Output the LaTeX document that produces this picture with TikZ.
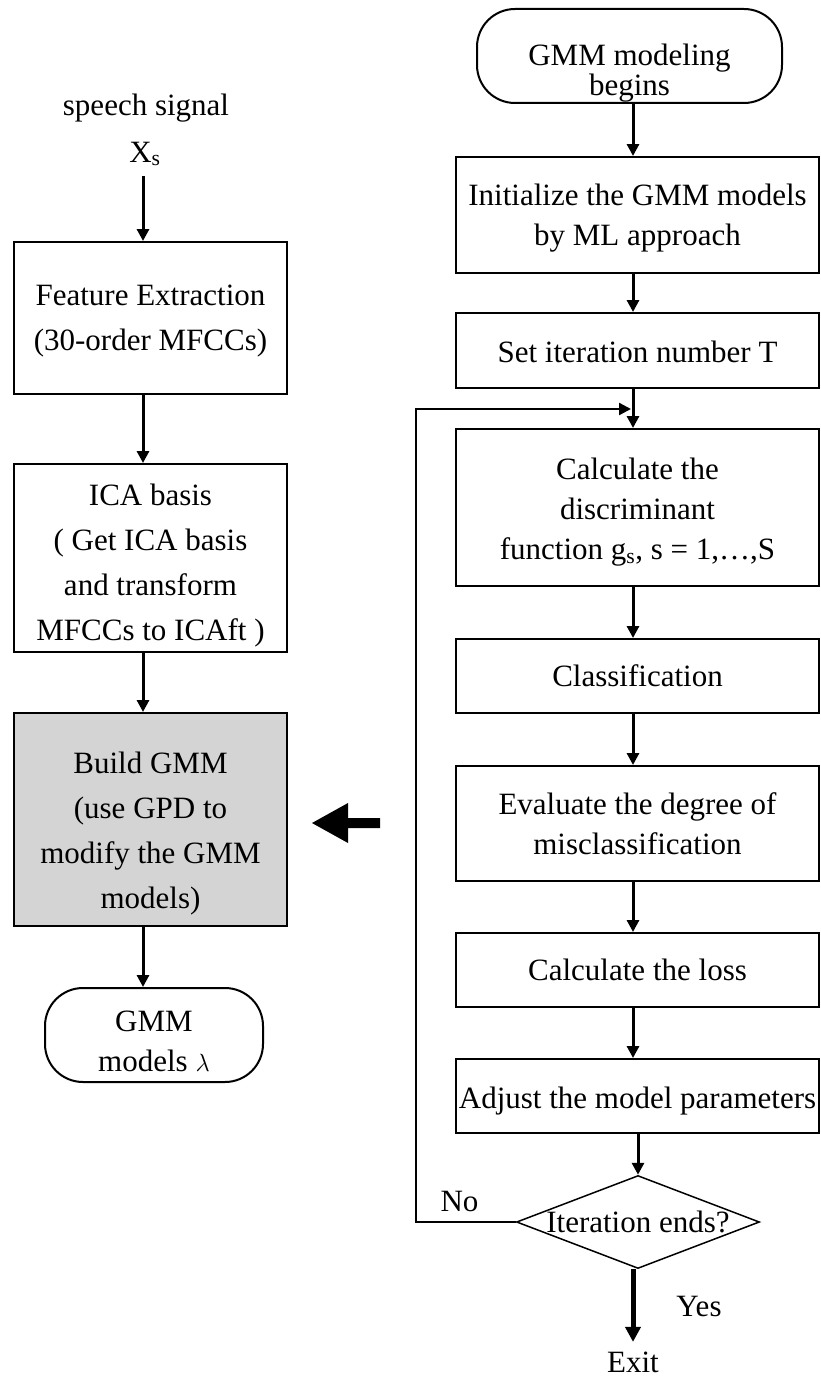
\documentclass[tikz,border=0pt]{standalone}
\usepackage{fontspec}
\setmainfont{Liberation Serif}
\usetikzlibrary{arrows.meta,shapes.geometric}
% zero-width strut that sets the height of a node's first line
\newcommand\hgt[1]{\rule{0pt}{#1pt}}
\definecolor{gmmgray}{gray}{0.83}
\begin{document}
\begin{tikzpicture}[x=1pt,y=-1pt,
  every node/.style={inner sep=0pt, align=center},
  lbl/.style={font=\fontsize{31}{40}\selectfont},
  box/.style={draw, line width=2pt, font=\fontsize{31}{45}\selectfont},
  lbox/.style={box, minimum width=273},
  rbox/.style={box, minimum width=363, font=\fontsize{31}{40}\selectfont},
  term/.style={box, rounded corners=38pt},
  dec/.style={draw, diamond, aspect=2.61, minimum width=243, minimum height=93,
    line width=1.5pt, font=\fontsize{31}{40}\selectfont},
  arr/.style={line width=3pt, -{Triangle[length=12pt,width=12pt]}},
  fb/.style={line width=2.4pt, -{Triangle[length=12pt,width=12pt]}},
  yesarr/.style={line width=5pt, -{Triangle[length=15pt,width=15pt]}}]
\useasboundingbox (0,0) rectangle (821,1378);

% left column: feature pipeline
\node[lbl] (sig) at (146,108) {speech signal};
\node[lbl] (xs) at (145,154) {X\textsubscript{s}};
\node[lbox, minimum height=152] (feat) at (150.5,318)
  {\hgt{25.7}Feature Extraction\\(30-order MFCCs)};
\node[lbox, minimum height=188] (ica) at (150.5,558)
  {\hgt{36.7}ICA basis\\( Get ICA basis\\and transform\\MFCCs to ICAft )};
\node[lbox, minimum height=213, fill=gmmgray] (gmm) at (150.5,819.5)
  {\hgt{48.7}Build GMM\\(use GPD to\\modify the GMM\\models)};
\node[term, minimum width=218, minimum height=94,
  font=\fontsize{31}{40}\selectfont] (models) at (154,1035)
  {\hgt{34}GMM\\models $\lambda$};

% right column: GPD training loop
\node[term, minimum width=305, minimum height=94,
  font=\fontsize{31}{27}\selectfont] (begin) at (629.5,56)
  {\hgt{55.7}GMM modeling\\begins};
\node[rbox, minimum height=116] (init) at (637.5,215)
  {\hgt{26.7}Initialize the GMM models\\by ML approach};
\node[rbox, minimum height=75] (setT) at (637.5,350.5)
  {\hgt{25}Set iteration number T};
\node[rbox, minimum height=157] (calc) at (637.5,507.5)
  {\hgt{30.7}Calculate the\\discriminant\\function g\textsubscript{s}, s = 1,\ldots,S};
\node[rbox, minimum height=74] (class) at (637.5,676)
  {\hgt{22}Classification};
\node[rbox, minimum height=115] (eval) at (637.5,823.5)
  {\hgt{23}Evaluate the degree of\\misclassification};
\node[rbox, minimum height=74] (loss) at (637.5,970)
  {Calculate the loss};
\node[rbox, minimum height=74] (adjust) at (637.5,1096)
  {\hgt{30.7}Adjust the model parameters};
\node[dec] (dia) at (638,1222) {Iteration ends?};
\node[lbl] (no) at (459.5,1201.5) {No};
\node[lbl] (yes) at (699,1306.5) {Yes};
\node[lbl] (exit) at (633,1362.5) {Exit};

% connector columns and loop corners
\coordinate (lcol) at (143,0);
\coordinate (rcol) at (633,0);
\coordinate (loopc) at (416,409);
\coordinate (joinc) at (631,409);

\draw[arr, shorten <=10pt] (xs.south -| lcol) -- (feat.north -| lcol);
\draw[arr] (feat.south -| lcol) -- (ica.north -| lcol);
\draw[arr] (ica.south -| lcol) -- (gmm.north -| lcol);
\draw[arr] (gmm.south -| lcol) -- (models.north -| lcol);

\draw[arr] (begin.south -| rcol) -- (init.north -| rcol);
\draw[arr] (init.south -| rcol) -- (setT.north -| rcol);
\draw[arr] (setT.south -| rcol) -- (calc.north -| rcol);
\draw[arr] (calc.south -| rcol) -- (class.north -| rcol);
\draw[arr] (class.south -| rcol) -- (eval.north -| rcol);
\draw[arr] (eval.south -| rcol) -- (loss.north -| rcol);
\draw[arr] (loss.south -| rcol) -- (adjust.north -| rcol);
\draw[arr] (adjust.south -| dia) -- (dia.north);
\draw[yesarr, shorten >=10pt] (dia.south -| exit) -- (exit.north);
\draw[fb] (dia.west) -| (loopc) -- (joinc);

% bold arrow pointing at the GMM building step
\fill (312,823) -- (348,803) -- (348,818) -- (380,818) -- (380,828)
  -- (348,828) -- (348,843) -- cycle;
\end{tikzpicture}
\end{document}
